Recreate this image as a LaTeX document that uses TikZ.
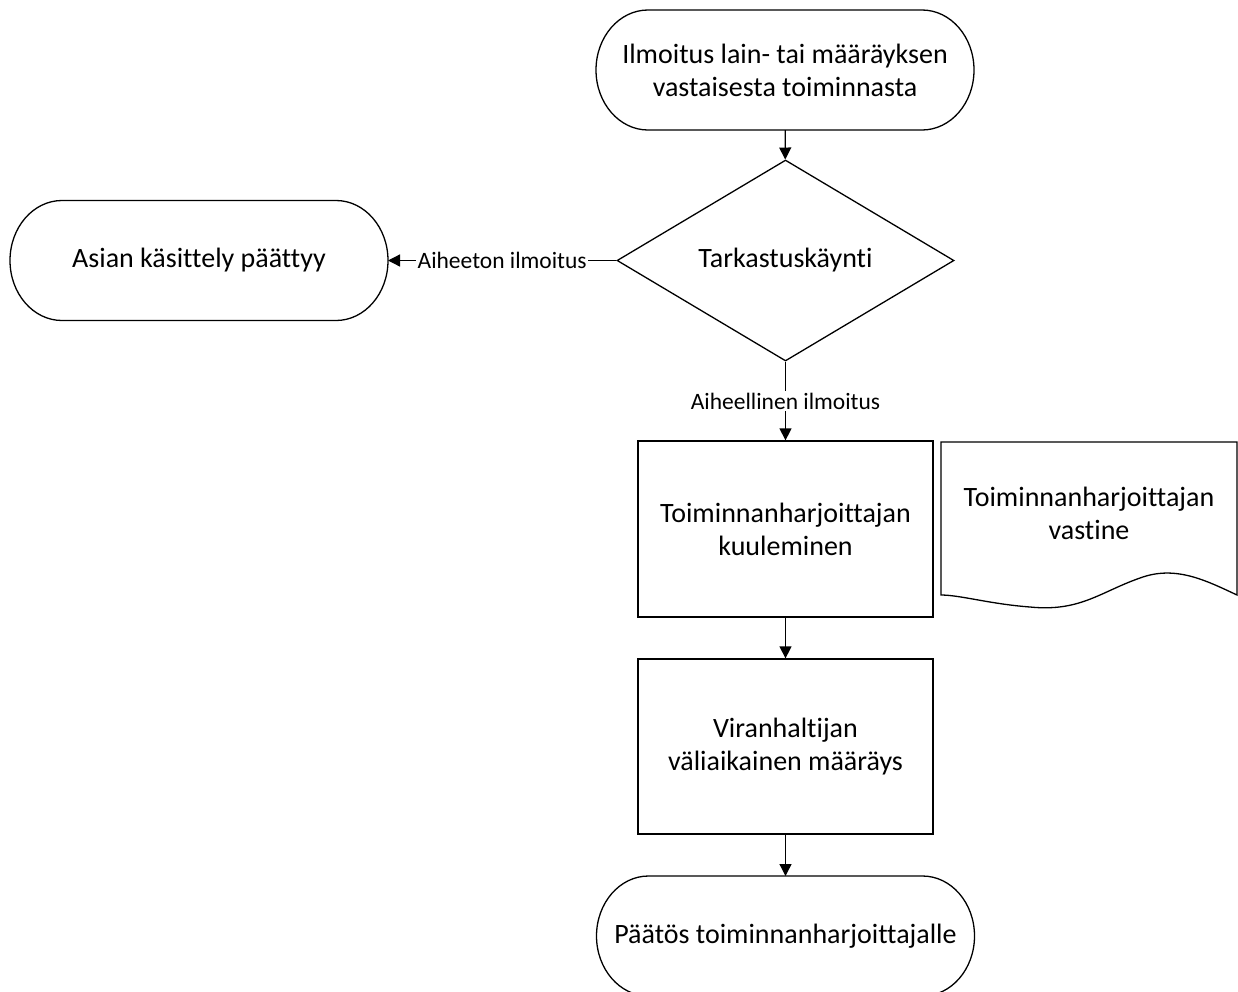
\documentclass[tikz,border=0pt]{standalone}
\usepackage{fontspec}
\setmainfont{Carlito}[Ligatures={NoCommon,NoRare}]
\usetikzlibrary{shapes.geometric,arrows.meta}
\newcommand{\drawterm}[1]{\draw[line width=1.3pt] ([xshift=52pt]#1.north west) -- ([xshift=-52pt]#1.north east) arc[start angle=90,end angle=-90,x radius=52pt,y radius=60pt] -- ([xshift=52pt]#1.south west) arc[start angle=270,end angle=90,x radius=52pt,y radius=60pt] -- cycle;}
\begin{document}
\begin{tikzpicture}[x=1pt,y=1pt,
  every node/.style={font=\fontsize{28}{33}\selectfont, align=center, inner sep=0pt},
  term/.style={rectangle, minimum width=378pt, minimum height=120pt, outer sep=0pt},
  procbox/.style={draw, rectangle, minimum width=295pt, minimum height=176pt, line width=1.3pt},
  decide/.style={draw, diamond, shape aspect=1.68, minimum width=337pt, minimum height=201pt, line width=1.3pt},
  conn/.style={line width=1.3pt, -{Triangle[length=12pt,width=12pt]}},
  elabel/.style={font=\fontsize{23.5}{28}\selectfont, fill=white, inner sep=1.5pt}
]
\clip (0,0) rectangle (1238,-991);
\node[term] (start) at (785,-70) {Ilmoitus lain- tai määräyksen\\vastaisesta toiminnasta};
\node[decide] (check) at (785.5,-260.5) {Tarkastuskäynti};
\node[term] (end1) at (199,-260.5) {Asian käsittely päättyy};
\node[procbox] (hear) at (785.5,-529) {Toiminnanharjoittajan\\kuuleminen};
\node[procbox, minimum height=175pt] (order) at (785.5,-746.5) {Viranhaltijan\\väliaikainen määräys};
\node[term] (final) at (785.5,-936) {Päätös toiminnanharjoittajalle};
\drawterm{start}
\drawterm{end1}
\drawterm{final}
% document shape
\draw[line width=1.3pt] (941,-442) -- (1237,-442) -- (1237,-595)
  .. controls (1205,-580) and (1175,-565) .. (1140,-578)
  .. controls (1100,-592) and (1080,-612) .. (1030,-607)
  .. controls (990,-604) and (960,-595) .. (941,-595) -- cycle;
\node (reply) at (1089,-513) {Toiminnanharjoittajan\\vastine};
\draw[conn] (start) -- (check);
\draw[conn] (check) -- node[elabel] {Aiheeton ilmoitus} (end1);
\draw[conn] (check) -- node[elabel] {Aiheellinen ilmoitus} (hear);
\draw[conn] (hear) -- (order);
\draw[conn] (order) -- (final);
\end{tikzpicture}
\end{document}
